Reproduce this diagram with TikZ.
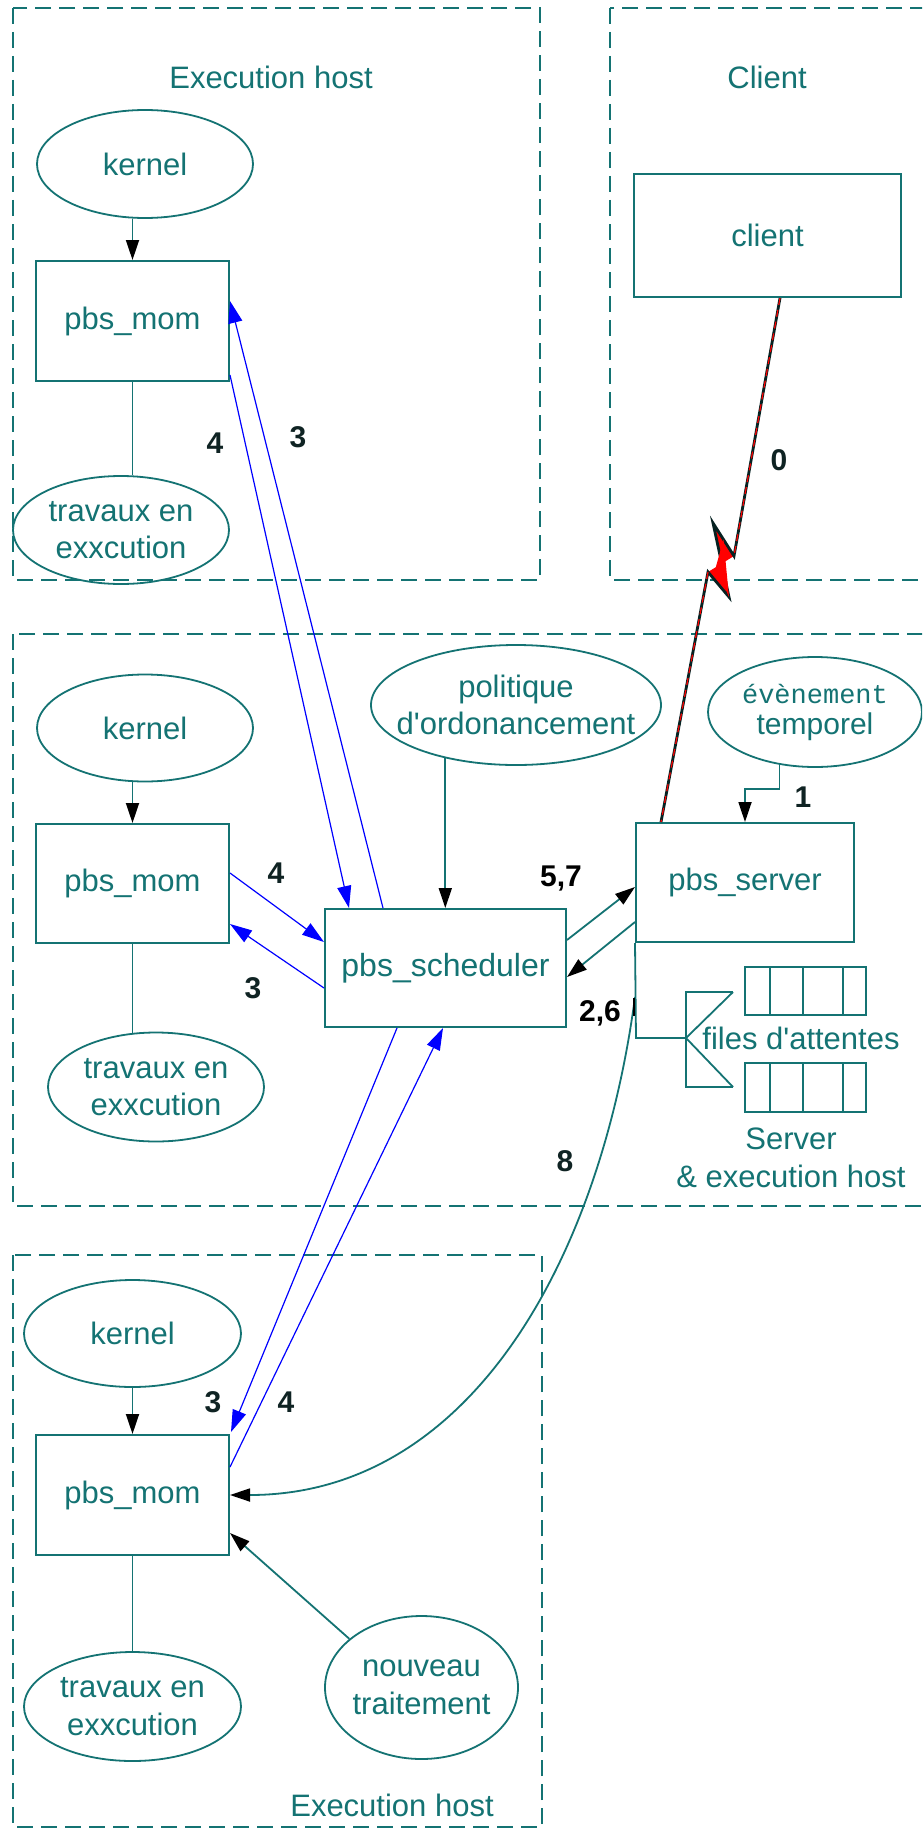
\documentclass[tikz,border=0pt]{standalone}
\usepackage{fontspec}
\setmainfont{Liberation Sans}
\newfontfamily\cour{Liberation Mono}
\usetikzlibrary{shapes.geometric,arrows.meta,calc}
\definecolor{tl}{RGB}{20,115,115}
\definecolor{lbl}{RGB}{15,35,35}
\definecolor{bl}{RGB}{0,0,255}
\begin{document}
\begin{tikzpicture}[x=1pt,y=-1pt,
  every node/.style={font=\fontsize{31}{37.5}\selectfont, text=tl, align=center, inner sep=0pt},
  boxn/.style={draw=tl, line width=2pt, rectangle},
  elln/.style={draw=tl, line width=1.8pt, ellipse, inner sep=-60pt},
  dsh/.style={draw=tl, line width=2.2pt, dash pattern=on 16pt off 8pt},
  ln/.style={draw=tl, line width=1.8pt},
  blk/.style={draw=tl, line width=1.8pt, -{Triangle[length=20pt,width=13pt,color=black]}},
  blu/.style={draw=bl, line width=1.2pt, -{Triangle[length=22pt,width=14pt]}},
  lab/.style={font=\fontsize{30}{36}\selectfont\bfseries, text=lbl},
  ttl/.style={font=\fontsize{31}{38}\selectfont, text=tl}]
\useasboundingbox (0,0) rectangle (922,1830);
\clip (0,0) rectangle (922,1830);
\fill[white] (0,0) rectangle (922,1830);

% dashed frames
\draw[dsh] (13,8) rectangle (540,580);
\draw[dsh] (610,8) rectangle (940,580);
\draw[dsh] (13,634) rectangle (940,1206);
\draw[dsh] (13,1255) rectangle (542,1827);

% titles
\node[ttl] (t1) at (271,77) {Execution host};
\node[ttl] (t2) at (767,77) {Client};
\node[ttl] (t3) at (392,1805) {Execution host};

% top execution host
\node[elln, minimum width=216pt, minimum height=108pt] (ker1) at (145,164) {kernel};
\node[boxn, minimum width=193pt, minimum height=120pt] (mom1) at (132.5,321) {pbs\_mom};
\node[elln, minimum width=216pt, minimum height=108pt] (trav1) at (121,530) {travaux en\\exxcution};

% client
\node[boxn, minimum width=267pt, minimum height=123pt] (cli) at (767.5,235.5) {client};

% middle
\node[elln, minimum width=216pt, minimum height=107pt] (ker2) at (145,728) {kernel};
\node[boxn, minimum width=193pt, minimum height=119pt] (mom2) at (132.5,883.5) {pbs\_mom};
\node[elln, minimum width=216pt, minimum height=109pt] (trav2) at (156,1087) {travaux en\\exxcution};
\node[elln, minimum width=290pt, minimum height=120pt] (pol) at (516,705) {politique\\d\textquotesingle ordonancement};
\node[boxn, minimum width=241pt, minimum height=118pt, font=\fontsize{32}{38}\selectfont] (sch) at (445.5,968) {pbs\_scheduler};
\node[elln, minimum width=214pt, minimum height=110pt, font=\fontsize{30}{31}\selectfont] (ev) at (815,712) {{\cour\fontsize{27}{30}\selectfont évènement}\\temporel};
\node[boxn, minimum width=218pt, minimum height=119pt] (srv) at (745,882.5) {pbs\_server};

% queues
\draw[ln] (srv.south west) -- (636,1038) -- (686,1038);
\draw[ln] (733,992) -- (686,992) -- (686,1087) -- (733,1087);
\draw[ln] (733,992) -- (686,1038) -- (733,1087);
\draw[ln] (745,967) rectangle (866,1015);
\draw[ln] (770,967) -- (770,1015) (803,967) -- (803,1015) (843,967) -- (843,1015);
\draw[ln] (745,1063) rectangle (866,1112);
\draw[ln] (770,1063) -- (770,1112) (803,1063) -- (803,1112) (843,1063) -- (843,1112);
\node (files) at (801,1038) {files d\textquotesingle attentes};
\node (srvlbl) at (791,1158) {Server\\\& execution host};

% bottom
\node[elln, minimum width=217pt, minimum height=107pt] (ker3) at (132.5,1333.5) {kernel};
\node[boxn, minimum width=193pt, minimum height=120pt] (mom3) at (132.5,1495) {pbs\_mom};
\node[elln, minimum width=217pt, minimum height=109pt] (trav3) at (132.5,1706.5) {travaux en\\exxcution};
\node[elln, minimum width=193pt, minimum height=143pt] (nou) at (421.5,1687.5) {nouveau\\traitement};

% kernel -> mom, mom -- travaux
\draw[blk] (mom1.north |- ker1.south) -- (mom1.north);
\draw[ln] (mom1.south) -- (mom1.south |- trav1.north);
\draw[blk] (mom2.north |- ker2.south) -- (mom2.north);
\draw[ln] (mom2.south) -- ([yshift=-1pt]mom2.south |- trav2.north);
\draw[blk] (ker3.south) -- (mom3.north);
\draw[ln] (mom3.south) -- (trav3.north);

% politique -> scheduler
\draw[blk] (pol.217) -- (pol.217 |- sch.north);
% evenement -> server
\draw[blk] (ev.236) -- ++(0,24) -| (srv.north);
% 5,7 and 2,6
\draw[blk] ([yshift=28pt]sch.east) -- ([yshift=-4.5pt]srv.west);
\draw[blk] ([yshift=-39.5pt]srv.west) -- ([yshift=-9pt]sch.east);
% 8
\coordinate (q8) at (635,997);
\draw[blk] (q8) .. controls (600,1260) and (470,1495) .. (mom3.east);
\draw[draw=black, line width=2.5pt] (634,998) -- (634,1016);
% nouveau -> mom
\draw[blk] (nou.146) -- ([yshift=-38pt]mom3.east);

% blue arrows
\draw[blu] ([xshift=-62.5pt]sch.north) -- ([yshift=20pt]mom1.east);
\draw[blu] ([yshift=-54pt]mom1.east) -- ([xshift=-96.5pt]sch.north);
\draw[blu] ([yshift=10.5pt]mom2.east) -- ([yshift=26pt]sch.west);
\draw[blu] ([yshift=-20pt]sch.west) -- ([yshift=-40.5pt]mom2.east);
\draw[blu] ([xshift=-48.5pt]sch.south) -- ([xshift=1pt,yshift=2pt]mom3.north east);
\draw[blu] ([yshift=28pt]mom3.east) -- ([xshift=-2.5pt]sch.south);

% lightning
\coordinate (la) at (734,556);
\coordinate (lb) at (713,523);
\coordinate (lc) at (729,597);
\coordinate (ld) at (708,572);
\fill[red] (la) -- (lb) -- (lc) -- (ld) -- cycle;
\draw[draw=black!70!tl, line width=2.8pt, line join=miter] ([xshift=12.5pt]cli.south) -- (la) -- (lb) -- (lc) -- (ld) -- ([xshift=26pt]srv.north west);
\fill[red] ($(la)!0.5!(lb)$) -- (lc) -- ($(ld)!0.3!(la)$) -- cycle;
\draw[draw=red, line width=1.2pt, dash pattern=on 7pt off 5pt] ([xshift=12.5pt]cli.south) -- (la) (ld) -- ([xshift=26pt]srv.north west);

% step labels
\node[lab] (l4a) at (215,443) {4};
\node[lab] (l3a) at (298,437) {3};
\node[lab] (l0) at (779,460) {0};
\node[lab] (l1) at (803,797) {1};
\node[lab, text=black] (l57) at (561,878) {5,7};
\node[lab, text=black] (l26) at (600,1013) {2,6};
\node[lab] (l4b) at (276,873) {4};
\node[lab] (l3b) at (253,988) {3};
\node[lab] (l8) at (565,1161) {8};
\node[lab] (l3c) at (213,1402) {3};
\node[lab] (l4c) at (286,1402) {4};
\end{tikzpicture}
\end{document}
